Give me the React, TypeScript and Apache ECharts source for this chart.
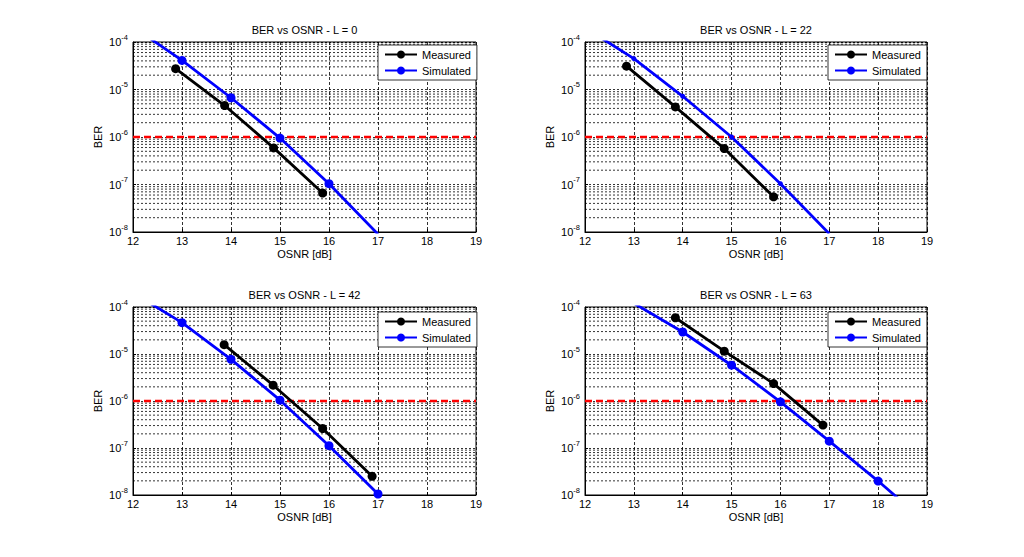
import React, { useEffect, useRef } from "react";
import * as echarts from "echarts";

// ---- data ----
const titles = ["BER vs OSNR - L = 0", "BER vs OSNR - L = 22", "BER vs OSNR - L = 42", "BER vs OSNR - L = 63"];
const xTicks = [12, 13, 14, 15, 16, 17, 18, 19];
const yDecades = [-8, -7, -6, -5, -4];
const threshold = 1e-6;

const measX0 = [12.87, 13.87, 14.87, 15.87];
const measY0 = [2.75e-5, 4.6e-6, 5.9e-7, 6.6e-8];
const simX0 = [12, 13, 14, 15, 16, 17];
const simY0 = [2.1e-4, 4.1e-5, 6.7e-6, 9.5e-7, 1.04e-7, 9.0e-9];

const measX22 = [12.85, 13.85, 14.85, 15.86];
const measY22 = [3.1e-5, 4.3e-6, 5.7e-7, 5.5e-8];
const simX22 = [12, 13, 14, 15, 16, 17];
const simY22 = [2.0e-4, 4.46e-5, 7.2e-6, 1.0e-6, 1.04e-7, 9.2e-9];

const measX42 = [13.86, 14.86, 15.87, 16.88];
const measY42 = [1.58e-5, 2.17e-6, 2.6e-7, 2.5e-8];
const simX42 = [12, 13, 14, 15, 16, 17];
const simY42 = [2.0e-4, 4.65e-5, 7.7e-6, 1.04e-6, 1.12e-7, 1.05e-8];

const measX63 = [13.85, 14.85, 15.86, 16.87];
const measY63 = [5.9e-5, 1.15e-5, 2.35e-6, 3.07e-7];
const simX63 = [13, 14, 15, 16, 17, 18, 19];
const simY63 = [1.2e-4, 2.94e-5, 5.77e-6, 9.6e-7, 1.4e-7, 1.98e-8, 2.5e-9];

const measured = [
  [measX0, measY0],
  [measX22, measY22],
  [measX42, measY42],
  [measX63, measY63],
];
const simulated = [
  [simX0, simY0],
  [simX22, simY22],
  [simX42, simY42],
  [simX63, simY63],
];
const simMarkerSizes = [9, 5, 9, 9];

// ---- layout ----
const boxes = [
  { left: 133, top: 42, width: 343, height: 190 },
  { left: 585, top: 42, width: 342, height: 190 },
  { left: 133, top: 307, width: 343, height: 188 },
  { left: 585, top: 307, width: 342, height: 188 },
];
const legendPos = [
  { left: 378, top: 45 },
  { left: 828, top: 45 },
  { left: 378, top: 312 },
  { left: 828, top: 312 },
];

const FONT = "'Liberation Sans', Arial, sans-serif";
const GRID_STYLE = { color: "#000", width: 0.8, type: [2, 2] as number[] };

const zip = (xs: number[], ys: number[]) => xs.map((x, i) => [x, ys[i]]);

function buildOption() {
  const xMin = xTicks[0];
  const xMax = xTicks[xTicks.length - 1];

  // minor log grid positions (2..9 in each decade)
  const minorValues: number[] = [];
  for (let k = yDecades[0]; k < yDecades[yDecades.length - 1]; k++) {
    for (let m = 2; m <= 9; m++) minorValues.push(m * Math.pow(10, k));
  }
  const minorData: any[] = [];
  minorValues.forEach((v) => {
    minorData.push([xMin, v], [xMax, v], [xMax, null]);
  });

  const grid = boxes.map((b) => ({
    ...b,
    show: true,
    borderColor: "#000",
    borderWidth: 1,
    backgroundColor: "#fff",
    containLabel: false,
  }));

  const xAxis = boxes.map((_, i) => ({
    type: "value",
    gridIndex: i,
    min: xMin,
    max: xMax,
    interval: 1,
    name: "OSNR [dB]",
    nameLocation: "middle",
    nameGap: 16,
    nameTextStyle: { fontSize: 11, color: "#000", fontFamily: FONT },
    axisLine: { show: true, lineStyle: { color: "#000", width: 1 } },
    axisTick: { show: true, inside: true, length: 3, lineStyle: { color: "#000" } },
    axisLabel: { fontSize: 11, color: "#000", margin: 3, fontFamily: FONT },
    splitLine: { show: true, lineStyle: { color: "#000", width: 0.8, type: [3, 2] } },
  }));

  const yAxis = boxes.map((_, i) => ({
    type: "log",
    logBase: 10,
    gridIndex: i,
    min: Math.pow(10, yDecades[0]),
    max: Math.pow(10, yDecades[yDecades.length - 1]),
    splitNumber: 4,
    name: "BER",
    nameLocation: "middle",
    nameGap: 30,
    nameTextStyle: { fontSize: 11, color: "#000", fontFamily: FONT },
    axisLine: { show: true, lineStyle: { color: "#000", width: 1 } },
    axisTick: { show: true, inside: true, length: 3, lineStyle: { color: "#000" } },
    axisLabel: {
      margin: 5,
      color: "#000",
      fontFamily: FONT,
      formatter: (v: number) => `{b|10}{s|${Math.round(Math.log10(v))}}`,
      rich: {
        b: { fontSize: 11, lineHeight: 18, color: "#000", fontFamily: FONT },
        s: { fontSize: 7.5, verticalAlign: "top", color: "#000", fontFamily: FONT },
      },
    },
    splitLine: { show: true, lineStyle: GRID_STYLE },
  }));

  const title = boxes.map((b, i) => ({
    text: titles[i],
    left: b.left + b.width / 2,
    top: b.top - 18,
    textAlign: "center",
    padding: 0,
    textStyle: { fontSize: 11, fontWeight: "normal", color: "#000", fontFamily: FONT },
  }));

  const legend = boxes.map((_, i) => ({
    orient: "vertical",
    left: legendPos[i].left,
    top: legendPos[i].top,
    data: [`Measured#${i}`, `Simulated#${i}`],
    formatter: (n: string) => n.split("#")[0],
    itemWidth: 32,
    itemHeight: 10,
    itemGap: 5,
    padding: [4, 6, 4, 6],
    backgroundColor: "#fff",
    borderColor: "#000",
    borderWidth: 0.8,
    borderRadius: 0,
    selectedMode: false,
    textStyle: { fontSize: 11, color: "#000", fontFamily: FONT },
  }));

  const series: any[] = [];
  boxes.forEach((_, i) => {
    series.push({
      name: `grid#${i}`,
      type: "line",
      xAxisIndex: i,
      yAxisIndex: i,
      data: minorData,
      silent: true,
      z: 1,
      symbol: "none",
      connectNulls: false,
      lineStyle: GRID_STYLE,
      emphasis: { disabled: true },
    });
    series.push({
      name: `threshold#${i}`,
      type: "line",
      xAxisIndex: i,
      yAxisIndex: i,
      data: [
        [xMin, threshold],
        [xMax, threshold],
      ],
      silent: true,
      z: 3,
      symbol: "none",
      lineStyle: { color: "#ff0000", width: 2.5, type: [7, 4] },
      emphasis: { disabled: true },
    });
    series.push({
      name: `Measured#${i}`,
      type: "line",
      xAxisIndex: i,
      yAxisIndex: i,
      data: zip(measured[i][0], measured[i][1]),
      z: 4,
      color: "#000",
      symbol: "circle",
      symbolSize: 9,
      showAllSymbol: true,
      lineStyle: { color: "#000", width: 2.8 },
      itemStyle: { color: "#000" },
      clip: true,
    });
    series.push({
      name: `Simulated#${i}`,
      type: "line",
      xAxisIndex: i,
      yAxisIndex: i,
      data: zip(simulated[i][0], simulated[i][1]),
      z: 4,
      color: "#0000ff",
      symbol: "circle",
      symbolSize: simMarkerSizes[i],
      showAllSymbol: true,
      lineStyle: { color: "#0000ff", width: 2.8 },
      itemStyle: { color: "#0000ff" },
      clip: true,
    });
  });

  return {
    animation: false,
    backgroundColor: "#fff",
    textStyle: { fontFamily: FONT },
    title,
    legend,
    grid,
    xAxis,
    yAxis,
    series,
  };
}

export default function App() {
  const ref = useRef<HTMLDivElement>(null);
  useEffect(() => {
    if (!ref.current) return;
    const chart = echarts.init(ref.current, null, { renderer: "svg" });
    chart.setOption(buildOption() as any);
    return () => chart.dispose();
  }, []);
  return (
    <div
      ref={ref}
      style={{ position: "fixed", left: 0, top: 0, width: 1024, height: 557, background: "#fff" }}
    />
  );
}
